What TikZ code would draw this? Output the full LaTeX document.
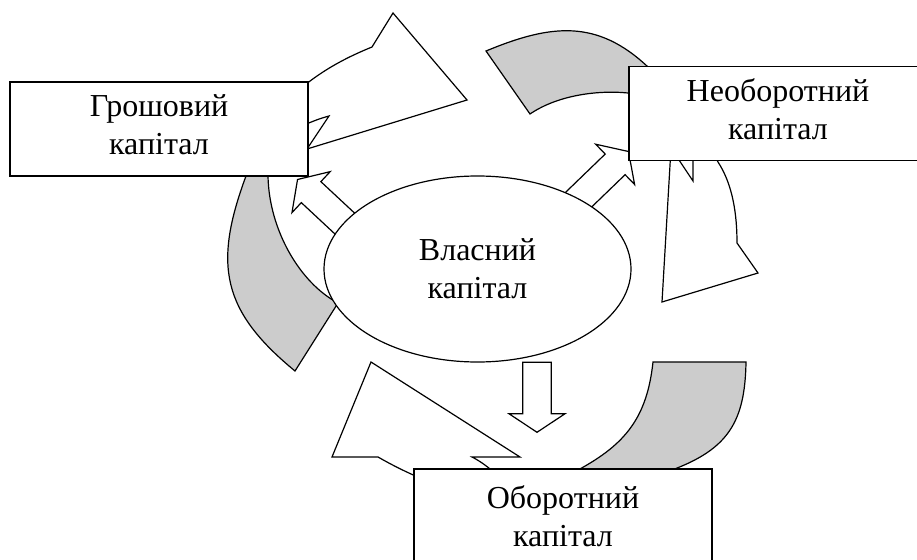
\documentclass[tikz,border=0pt]{standalone}
\usepackage{fontspec}
\setmainfont{Liberation Serif}
\usetikzlibrary{shapes.geometric,shapes.arrows}
\definecolor{bandgray}{RGB}{204,204,204}

\begin{document}
\begin{tikzpicture}[x=0.75pt,y=0.75pt,yscale=-1,xscale=1,
    line width=0.9pt,
    back/.style={draw=black,fill=bandgray},
    front/.style={draw=black,fill=white},
    captext/.style={font=\fontsize{24}{28.5}\selectfont,align=center,inner sep=0pt},
    capbox/.style={captext,rectangle,draw,fill=white,minimum width=223.5pt,minimum height=70.5pt},
    capoval/.style={captext,ellipse,draw,fill=white,minimum width=230.25pt,minimum height=139.5pt},
    blockarr/.style={single arrow,draw,fill=white,inner xsep=0pt,inner ysep=10.3pt,anchor=tip,
        single arrow head extend=10.25pt,single arrow tip angle=113,minimum height=#1}]
\useasboundingbox (0,0) rectangle (917,560);
\clip (0,0) rectangle (917,560);

% curved arrow from the money capital
\draw[back] (252,160) -- (246,176) .. controls (213,265) and (222,311) .. (295,371) -- (338,303) .. controls (300,283) and (269,230) .. (268,176) -- (268,160) -- cycle;
\draw[front] (300,89) .. controls (325,68) and (350,56) .. (372,47) -- (393,13) -- (467,100) -- (307,149) -- (329,116) .. controls (318,119) and (308,123) .. (298,128) -- cycle;

% curved arrow from the fixed capital
\draw[back] (660,80) -- (648,67) .. controls (597,19) and (551,24) .. (486,51) -- (530,114) .. controls (558,95) and (598,90) .. (628,93) -- (640,95) -- cycle;
\draw[front] (671,148) -- (662,302) -- (758,273) -- (737,243) .. controls (737,215) and (733,185) .. (718,162) -- (712,150) -- (693,150) -- (693,181) -- cycle;

% curved arrow from the working capital
\draw[back] (578,470) .. controls (626,444) and (647,417) .. (653,362) -- (746,362) .. controls (745,422) and (728,449) .. (672,470) -- (660,480) -- (570,480) -- cycle;
\draw[front] (371,362) -- (332,457) -- (378,457) .. controls (392,465) and (404,471) .. (420,478) -- (500,478) .. controls (490,468) and (480,461) .. (472,457) -- (520,457) -- cycle;

% block arrows out of the own capital
\coordinate (tipGrosh) at (297,179);
\coordinate (tipNeob) at (629,151);
\coordinate (tipObor) at (537,433);
\node[blockarr=52.5pt,rotate=137] (toGrosh) at (tipGrosh) {};
\node[blockarr=58.5pt,rotate=44] (toNeob) at (tipNeob) {};
\node[blockarr=52.5pt,rotate=-90] (toObor) at (tipObor) {};

\node[capoval] (vlas) at (477.5,269) {Власний\\капітал};
\node[capbox,text depth=6pt] (grosh) at (159,129) {Грошовий\\капітал};
\node[capbox,text depth=6pt] (neob) at (778,113.5) {Необоротний\\капітал};
\node[capbox] (obor) at (563,516) {Оборотний\\капітал};
\end{tikzpicture}
\end{document}
